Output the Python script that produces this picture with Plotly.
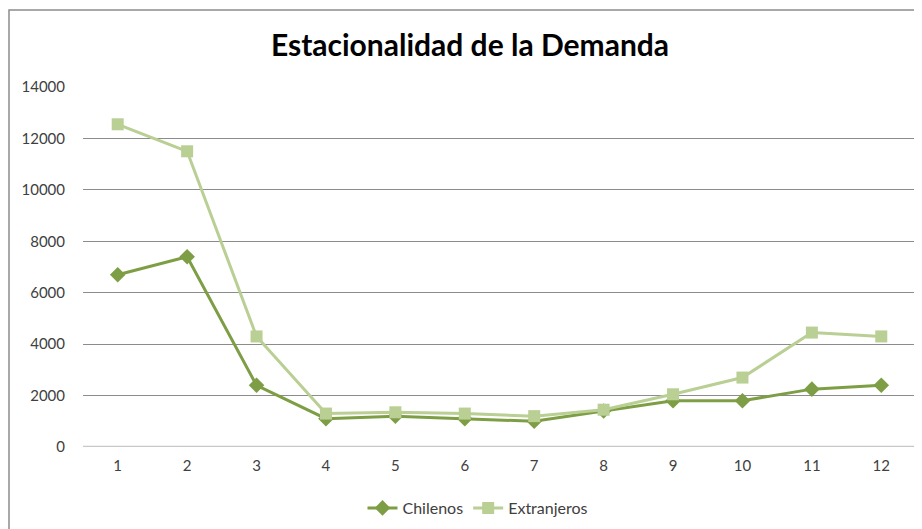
import plotly.graph_objects as go

months = ["1", "2", "3", "4", "5", "6", "7", "8", "9", "10", "11", "12"]
chilenos = [6700, 7400, 2400, 1100, 1200, 1100, 1000, 1400, 1800, 1800, 2250, 2400]
extranjeros = [12550, 11500, 4300, 1300, 1350, 1300, 1200, 1450, 2050, 2700, 4450, 4300]
y_ticks = [0, 2000, 4000, 6000, 8000, 10000, 12000, 14000]
y_tick_labels = ["0", "2000", "4000", "6000", "8000", "10000", "12000", "14000"]

FONT = "Lato"
W, H = 922, 529
OFF = 8  # page body margin offset

fig = go.Figure()
fig.add_trace(go.Scatter(
    x=months, y=chilenos, name="Chilenos", mode="lines+markers",
    line=dict(color="#7E9E45", width=3),
    marker=dict(symbol="diamond", size=12, color="#7E9E45"),
))
fig.add_trace(go.Scatter(
    x=months, y=extranjeros, name="Extranjeros", mode="lines+markers",
    line=dict(color="#B9CF94", width=3),
    marker=dict(symbol="square", size=12, color="#B9CF94"),
))

fig.update_layout(
    width=W, height=H,
    paper_bgcolor="white", plot_bgcolor="white",
    margin=dict(l=83 - OFF, r=6 + OFF, t=87 - OFF, b=82 + OFF, autoexpand=False),
    title=dict(text="<b>Estacionalidad de la Demanda</b>",
               xref="container", x=(470 - OFF) / W, xanchor="center",
               yref="container", y=1 - (45 - OFF) / H, yanchor="middle",
               font=dict(family=FONT, size=30, color="black")),
    font=dict(family=FONT, size=15, color="#404040"),
    xaxis=dict(type="category", range=[-0.5, len(months) - 0.5],
               showgrid=False, showline=False, ticks="",
               automargin=False, ticklabelstandoff=8,
               tickfont=dict(size=15, color="#404040"), zeroline=False),
    yaxis=dict(range=[0, 14000], tickvals=y_ticks, ticktext=y_tick_labels,
               showgrid=True, automargin=False,
               gridcolor="#8C8C8C", gridwidth=1, zeroline=False, showline=False,
               ticks="", ticklabelstandoff=17,
               tickfont=dict(size=15, color="#404040")),
    legend=dict(orientation="h", xref="container", x=(478 - OFF) / W, xanchor="center",
                yref="container", y=1 - (508 - OFF) / H, yanchor="middle",
                font=dict(size=16, color="#404040"), itemwidth=30),
    showlegend=True,
    shapes=[
        dict(type="rect", xref="paper", yref="paper",
             x0=-(83 - OFF - 1) / (W - 83 - 6), x1=1.05,
             y0=-0.3, y1=1 + (87 - 10) / (447 - 87),
             line=dict(color="#8C8C8C", width=1.5), fillcolor="rgba(0,0,0,0)", layer="below"),
        dict(type="line", xref="paper", yref="y", x0=0, x1=1, y0=0, y1=0,
             line=dict(color="#C8C8C8", width=2.5)),
    ],
)

fig.write_html("out.html")
